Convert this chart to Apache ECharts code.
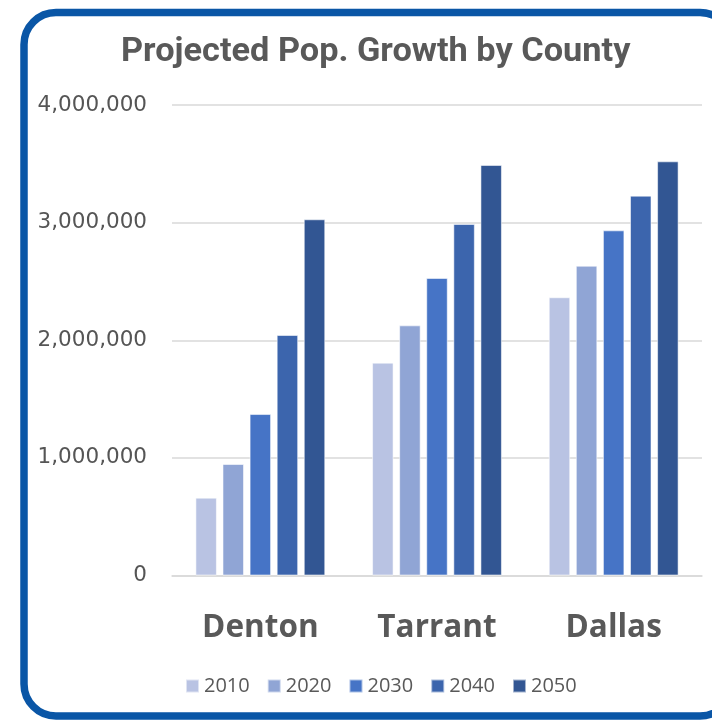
<!DOCTYPE html>
<html>
<head>
<meta charset="utf-8">
<script src="https://cdn.jsdelivr.net/npm/echarts@6/dist/echarts.min.js"></script>
<style>html,body{margin:0;padding:0;background:#fff;}#c{width:712px;height:722px;}</style>
</head>
<body>
<div id="c"></div>
<script>
const titleText = 'Projected Pop. Growth by County';
const counties = ['Denton', 'Tarrant', 'Dallas'];
const years = ['2010', '2020', '2030', '2040', '2050'];
const pop2010 = [662000, 1810000, 2366000];
const pop2020 = [948000, 2127000, 2634000];
const pop2030 = [1373000, 2530000, 2935000];
const pop2040 = [2045000, 2989000, 3230000];
const pop2050 = [3029000, 3491000, 3522000];
const yTicks = [0, 1000000, 2000000, 3000000, 4000000];
const colors = ['#B9C3E3', '#90A5D5', '#4674C6', '#3C65AD', '#325693'];

const seriesData = [pop2010, pop2020, pop2030, pop2040, pop2050];
const chart = echarts.init(document.getElementById('c'), null, {renderer: 'canvas'});
chart.setOption({
  animation: false,
  backgroundColor: '#fff',
  color: colors,
  graphic: [
    {
      type: 'rect', z: 100, silent: true,
      shape: {x: 24, y: 12.5, width: 708, height: 703.5, r: 32},
      style: {fill: 'none', stroke: '#0A56A6', lineWidth: 7.5}
    },
    {
      type: 'text', z: 100, left: 121, top: 36, scaleX: 1.04,
      style: {text: titleText, font: 'bold 33px Roboto', fill: '#595959'}
    }
  ],
  grid: {left: 172, right: 10, top: 105.1, bottom: 146.5, containLabel: false},
  legend: {
    data: years, left: 180, top: 671, itemWidth: 13, itemHeight: 13, itemGap: 17,
    icon: 'rect',
    textStyle: {fontFamily: 'Open Sans', fontSize: 20, color: '#595959', padding: [0, 0, 0, 0]}
  },
  xAxis: {
    type: 'category', data: counties,
    axisLine: {lineStyle: {color: '#D9D9D9', width: 1.5}},
    axisTick: {show: false},
    axisLabel: {fontFamily: 'Open Sans', fontWeight: 'bold', fontSize: 31.5, color: '#595959', margin: 37}
  },
  yAxis: {
    type: 'value', min: 0, max: 4000000, interval: 1000000,
    axisLine: {show: false}, axisTick: {show: false},
    splitLine: {lineStyle: {color: '#D9D9D9', width: 1.5}},
    axisLabel: {
      fontFamily: 'DejaVu Sans', fontSize: 21.5, color: '#555555', margin: 25,
      formatter: v => yTicks.includes(v) ? v.toLocaleString('en-US') : ''
    }
  },
  series: years.map((y, i) => ({
    name: y, type: 'bar', data: seriesData[i],
    barWidth: 21.5, barGap: '26%',
    itemStyle: {color: colors[i], borderColor: 'rgba(255,255,255,0.55)', borderWidth: 1}
  }))
});
</script>
</body>
</html>
